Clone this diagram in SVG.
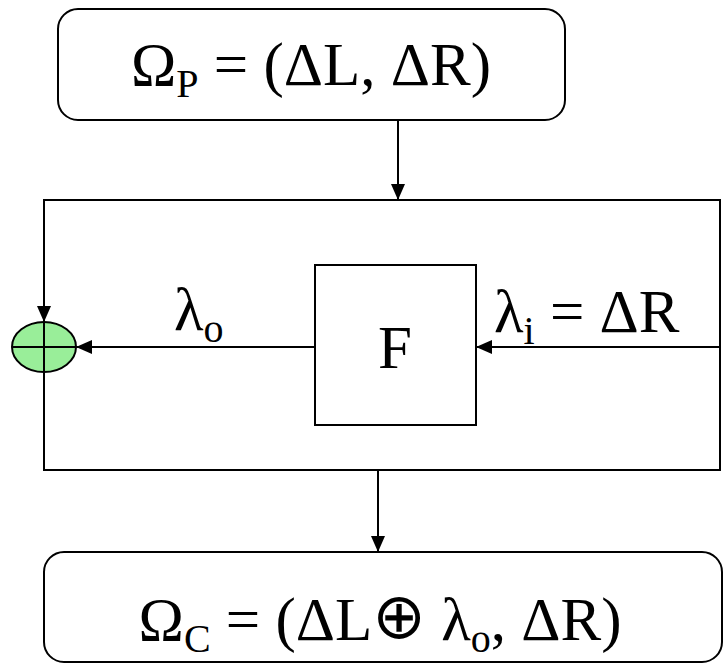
<svg xmlns="http://www.w3.org/2000/svg" width="725" height="664" viewBox="0 0 725 664">
<style>
.box{fill:#fff;stroke:#000;stroke-width:2}
.ln{fill:none;stroke:#000;stroke-width:2}
.t{font-family:"Liberation Serif","Times New Roman",serif;font-size:61px;fill:#000}
.s{font-size:40px}
</style>
<defs>
<marker id="ah" viewBox="0 0 16 14" refX="16" refY="7" markerWidth="16" markerHeight="14" markerUnits="userSpaceOnUse" orient="auto">
<path d="M0,0 L16,7 L0,14 Z" fill="#000"/>
</marker>
</defs>
<g id="main">
<rect class="box" x="44" y="200" width="676" height="270"/>
</g>
<g id="top">
<rect class="box" x="58" y="9" width="507" height="111" rx="20"/>
<text class="t" x="311" y="85" text-anchor="middle">Ω<tspan class="s" dy="12">P</tspan><tspan dy="-12"> = (ΔL, ΔR)</tspan></text>
</g>
<g id="F">
<rect class="box" x="315" y="265" width="161" height="160"/>
<text class="t" x="395" y="368" text-anchor="middle">F</text>
</g>
<g id="bottom">
<rect class="box" x="44" y="552" width="678" height="110" rx="20"/>
<text class="t" x="380" y="640" text-anchor="middle" font-size="63">Ω<tspan class="s" dy="12">C</tspan><tspan dy="-12"> = (ΔL</tspan><tspan font-family="DejaVu Sans, sans-serif" font-size="64" dy="-2">⊕</tspan><tspan dy="2"> λ</tspan><tspan class="s" dy="12">o</tspan><tspan dy="-12">, ΔR)</tspan></text>
</g>
<g id="sum">
<ellipse cx="44" cy="347" rx="32" ry="25" fill="#99ee99" stroke="#000" stroke-width="2"/>
<line class="ln" x1="12" y1="347" x2="76" y2="347"/>
<line class="ln" x1="44" y1="322" x2="44" y2="372"/>
</g>
<g id="labels">
<text class="t" x="174" y="330">λ<tspan class="s" dy="12">o</tspan></text>
<text class="t" x="494" y="332">λ<tspan class="s" dy="12">i</tspan><tspan dy="-12"> = ΔR</tspan></text>
</g>
<g id="connectors">
<line class="ln" x1="398" y1="120" x2="398" y2="200" marker-end="url(#ah)"/>
<line class="ln" x1="44" y1="200" x2="44" y2="322" marker-end="url(#ah)"/>
<line class="ln" x1="315" y1="347" x2="76" y2="347" marker-end="url(#ah)"/>
<line class="ln" x1="720" y1="347" x2="476" y2="347" marker-end="url(#ah)"/>
<line class="ln" x1="378" y1="470" x2="378" y2="552" marker-end="url(#ah)"/>
</g>
</svg>
